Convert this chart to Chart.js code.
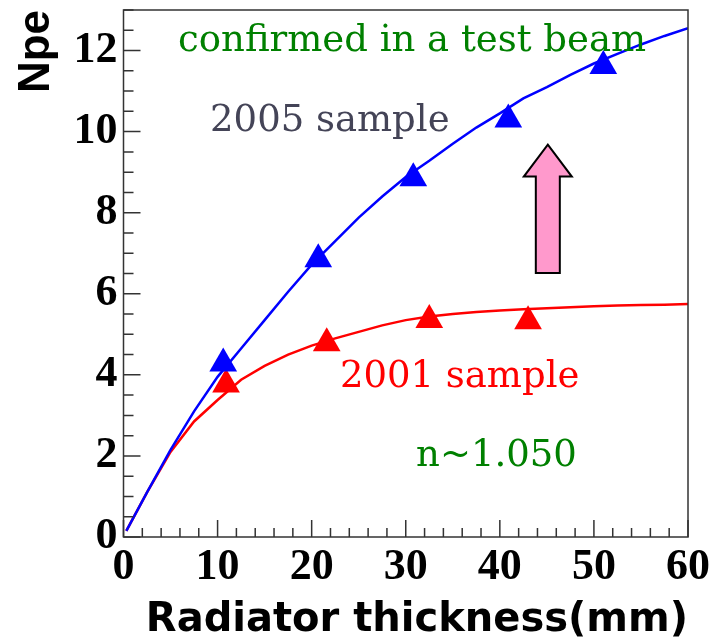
<!DOCTYPE html>
<html>
<head>
<meta charset="utf-8">
<script src="https://cdn.jsdelivr.net/npm/chart.js@4.4.1/dist/chart.umd.min.js"></script>
<style>
  html, body { margin: 0; padding: 0; background: #fff; }
  #wrap { width: 717px; height: 641px; }
</style>
</head>
<body>
<div id="wrap"><canvas id="npeChart" width="717" height="641"></canvas></div>
<script>
// measured points (triangles)
var thick2005 = [10.6, 20.7, 30.8, 40.9, 51.0];
var npe2005   = [4.28, 6.85, 8.85, 10.30, 11.62];
var thick2001 = [10.9, 21.6, 32.5, 43.0];
var npe2001   = [3.76, 4.78, 5.35, 5.32];

// fitted curves, every 2.5 mm
var curveX    = [0.3, 2.5, 5, 7.5, 10, 12.5, 15, 17.5, 20, 22.5, 25, 27.5, 30, 32.5, 35, 37.5, 40, 42.5, 45, 47.5, 50, 52.5, 55, 57.5, 60];
var curve2005 = [0.15, 1.1, 2.15, 3.1, 3.95, 4.65, 5.35, 6.05, 6.72, 7.3, 7.88, 8.4, 8.88, 9.28, 9.7, 10.1, 10.45, 10.82, 11.1, 11.4, 11.68, 11.92, 12.15, 12.36, 12.55];
var curve2001 = [0.15, 1.1, 2.1, 2.85, 3.38, 3.88, 4.22, 4.5, 4.72, 4.9, 5.06, 5.22, 5.35, 5.44, 5.5, 5.55, 5.59, 5.62, 5.64, 5.67, 5.69, 5.71, 5.72, 5.73, 5.75];

var xTickLabels = [0, 10, 20, 30, 40, 50, 60];
var yTickLabels = [0, 2, 4, 6, 8, 10, 12];

function toXY(xs, ys) {
    var out = [];
    for (var i = 0; i < xs.length; i++) {
        out.push({x: xs[i], y: ys[i]});
    }
    return out;
}

var serifText = "'DejaVu Serif', serif";

// annotations, ROOT-style frame and inner ticks
var rootDecor = {
    id: 'rootDecor',
    afterDatasetsDraw: function(chart) {
        var ctx = chart.ctx;
        var xs = chart.scales.x, ys = chart.scales.y;
        var area = chart.chartArea;
        var v;

        ctx.save();
        ctx.strokeStyle = '#333';
        ctx.lineWidth = 1.5;
        ctx.beginPath();
        for (v = 0; v <= 60; v += 2) {
            var px = xs.getPixelForValue(v);
            var len = (v % 10 === 0) ? 17 : 9;
            ctx.moveTo(px, area.bottom);
            ctx.lineTo(px, area.bottom - len);
        }
        for (v = 0; v <= 13; v += 0.5) {
            var py = ys.getPixelForValue(v);
            var len2 = (v % 2 === 0) ? 17 : 10;
            ctx.moveTo(area.left, py);
            ctx.lineTo(area.left + len2, py);
        }
        ctx.stroke();
        ctx.strokeRect(area.left, area.top, area.right - area.left, area.bottom - area.top);

        // texts
        ctx.font = '37px ' + serifText;
        ctx.textAlign = 'left';
        ctx.textBaseline = 'alphabetic';
        ctx.fillStyle = '#008000';
        ctx.fillText('confirmed in a test beam', xs.getPixelForValue(5.8), ys.getPixelForValue(11.98));
        ctx.fillStyle = '#444457';
        ctx.fillText('2005 sample', xs.getPixelForValue(9.2), ys.getPixelForValue(10.02));
        ctx.fillStyle = '#ff0000';
        ctx.fillText('2001 sample', xs.getPixelForValue(23.0), ys.getPixelForValue(3.69));
        ctx.fillStyle = '#008000';
        ctx.fillText('n~1.050', xs.getPixelForValue(31.1), ys.getPixelForValue(1.76));

        // pink arrow
        var cx = xs.getPixelForValue(45.1);
        var yTip = ys.getPixelForValue(9.68);
        var yNeck = ys.getPixelForValue(8.89);
        var yBase = ys.getPixelForValue(6.51);
        ctx.beginPath();
        ctx.moveTo(cx, yTip);
        ctx.lineTo(cx + 24, yNeck);
        ctx.lineTo(cx + 12, yNeck);
        ctx.lineTo(cx + 12, yBase);
        ctx.lineTo(cx - 12, yBase);
        ctx.lineTo(cx - 12, yNeck);
        ctx.lineTo(cx - 24, yNeck);
        ctx.closePath();
        ctx.fillStyle = '#ff99cc';
        ctx.fill();
        ctx.strokeStyle = '#000';
        ctx.lineWidth = 2;
        ctx.stroke();
        ctx.restore();
    }
};

var ctx = document.getElementById('npeChart').getContext('2d');
var npeChart = new Chart(ctx, {
    type: 'scatter',
    data: {
        datasets: [
            {
                label: 'fit 2005',
                data: toXY(curveX, curve2005),
                showLine: true,
                borderColor: '#0000ff',
                borderWidth: 2.5,
                pointRadius: 0,
                tension: 0
            },
            {
                label: 'fit 2001',
                data: toXY(curveX, curve2001),
                showLine: true,
                borderColor: '#ff0000',
                borderWidth: 2.5,
                pointRadius: 0,
                tension: 0
            },
            {
                label: '2005 sample',
                data: toXY(thick2005, npe2005),
                pointStyle: 'triangle',
                pointRadius: 16,
                backgroundColor: '#0000ff',
                borderColor: '#0000ff',
                borderWidth: 0
            },
            {
                label: '2001 sample',
                data: toXY(thick2001, npe2001),
                pointStyle: 'triangle',
                pointRadius: 16,
                backgroundColor: '#ff0000',
                borderColor: '#ff0000',
                borderWidth: 0
            }
        ]
    },
    options: {
        responsive: false,
        animation: false,
        layout: { autoPadding: false, padding: { top: 10, right: 29, left: 0, bottom: 0 } },
        plugins: {
            legend: { display: false },
            tooltip: { enabled: false }
        },
        scales: {
            x: {
                type: 'linear',
                min: 0,
                max: 60,
                afterFit: function(s) {
                    s.height = 104;
                    s.paddingLeft = 0;
                    s.paddingRight = 0;
                },
                afterBuildTicks: function(s) {
                    s.ticks = xTickLabels.map(function(v) { return {value: v}; });
                },
                grid: { display: false, drawTicks: false },
                border: { display: false },
                ticks: {
                    padding: 4,
                    color: '#000',
                    font: { family: "'Liberation Serif', serif", size: 44, weight: 'bold' }
                },
                title: {
                    display: true,
                    text: 'Radiator thickness(mm)',
                    align: 'end',
                    color: '#000',
                    padding: { top: 0, bottom: 0 },
                    font: { family: "'DejaVu Sans', sans-serif", size: 40, weight: 'bold', lineHeight: 1 }
                }
            },
            y: {
                type: 'linear',
                min: 0,
                max: 13,
                afterFit: function(s) {
                    s.width = 123.5;
                    s.paddingTop = 0;
                    s.paddingBottom = 0;
                },
                afterBuildTicks: function(s) {
                    s.ticks = yTickLabels.map(function(v) { return {value: v}; });
                },
                grid: { display: false, drawTicks: false },
                border: { display: false },
                ticks: {
                    padding: 6,
                    color: '#000',
                    font: { family: "'Liberation Serif', serif", size: 44, weight: 'bold' }
                },
                title: {
                    display: true,
                    text: 'Npe',
                    align: 'end',
                    color: '#000',
                    padding: { top: 10, bottom: 0 },
                    font: { family: "'Liberation Sans', sans-serif", size: 44, weight: 'bold' }
                }
            }
        }
    },
    plugins: [rootDecor]
});
</script>
</body>
</html>
